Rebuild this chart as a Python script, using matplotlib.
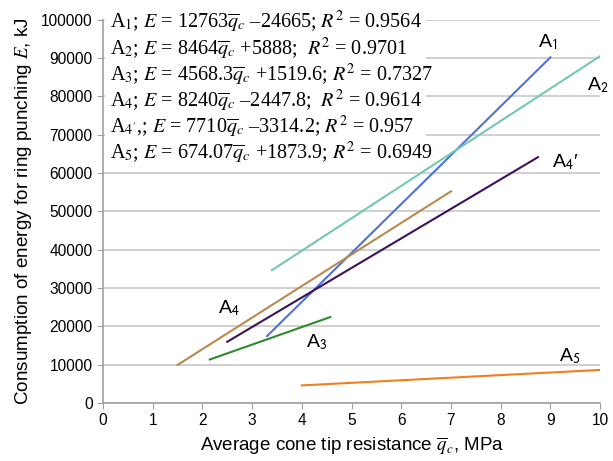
import matplotlib
matplotlib.use("Agg")
import matplotlib.pyplot as plt
from matplotlib.patches import Rectangle

plt.rcParams['font.family'] = ['Liberation Sans', 'DejaVu Sans']
plt.rcParams['mathtext.fontset'] = 'stix'

# end points of each fitted line
a1_x = [3.3, 9.0]
a1_y = [17450, 90200]
a2_x = [3.4, 10.0]
a2_y = [34650, 90530]
a3_x = [2.15, 4.57]
a3_y = [11340, 22400]
a4_x = [1.5, 7.0]
a4_y = [9910, 55230]
a4p_x = [2.5, 8.75]
a4p_y = [15960, 64150]
a5_x = [4.0, 10.0]
a5_y = [4570, 8610]

equations = [
    r'A$_1$; $E$ = 12763$\overline{q}_c$ –24665; $R^2$ = 0.9564',
    r'A$_2$; $E$ = 8464$\overline{q}_c$ +5888;  $R^2$ = 0.9701',
    r'A$_3$; $E$ = 4568.3$\overline{q}_c$ +1519.6; $R^2$ = 0.7327',
    r'A$_4$; $E$ = 8240$\overline{q}_c$ –2447.8;  $R^2$ = 0.9614',
    r"A$_{4'}$,; $E$ = 7710$\overline{q}_c$ –3314.2; $R^2$ = 0.957",
    r'A$_5$; $E$ = 674.07$\overline{q}_c$ +1873.9; $R^2$ = 0.6949',
]

fig, ax = plt.subplots(figsize=(6.13, 4.61), dpi=100)
fig.subplots_adjust(left=0.168, right=0.979, bottom=0.126, top=0.957)

ax.plot(a1_x, a1_y, color='#4f72d4', lw=1.5)
ax.plot(a2_x, a2_y, color='#72c9ad', lw=1.5)
ax.plot(a3_x, a3_y, color='#2f8a2f', lw=1.5)
ax.plot(a4_x, a4_y, color='#b98a50', lw=1.5)
ax.plot(a4p_x, a4p_y, color='#3c1258', lw=1.5)
ax.plot(a5_x, a5_y, color='#f07f1e', lw=1.5)

# line labels
lab = dict(fontsize=14, ha='center', va='center')
ax.text(8.95, 94300, r'A$_\mathsf{1}$', **lab)
ax.text(9.96, 83000, r'A$_\mathsf{2}$', **lab)
ax.text(9.3, 62900, "A$_\\mathsf{4}$\u2032", **lab)
ax.text(2.53, 24800, r'A$_\mathsf{4}$', **lab)
ax.text(4.29, 15900, r'A$_\mathsf{3}$', **lab)
ax.text(9.4, 12300, r'A$_\mathsf{5}$', **lab)

ax.set_xlim(0, 10)
ax.set_ylim(0, 100000)
ax.set_xticks(range(0, 11))
ax.set_yticks(range(0, 100001, 10000))
ax.yaxis.grid(True, color='#c8c8c8', lw=1.2)
ax.set_axisbelow(True)
for s in ['top', 'right']:
    ax.spines[s].set_visible(False)
for s in ['left', 'bottom']:
    ax.spines[s].set_color('#a0a0a0')
    ax.spines[s].set_linewidth(1.2)
ax.tick_params(colors='#a0a0a0', labelcolor='black', labelsize=11.2, length=4)

ax.set_xlabel(r'Average cone tip resistance $\overline{q}_c$, MPa', fontsize=13.5, labelpad=5)
ax.set_ylabel(r'Consumption of energy for ring punching $E$, kJ', fontsize=13.6, labelpad=5)

# white box behind the equations
ax.add_patch(Rectangle((0.05, 62000), 6.45, 40000, facecolor='white',
                       edgecolor='none', zorder=1.5, clip_on=True))

for i, eq in enumerate(equations):
    fig.text(110 / 613, 1 - (22 + 26.2 * i) / 461, eq, family='Liberation Serif',
             fontsize=14.5, va='center', ha='left')

fig.savefig('out.png', dpi=100)
